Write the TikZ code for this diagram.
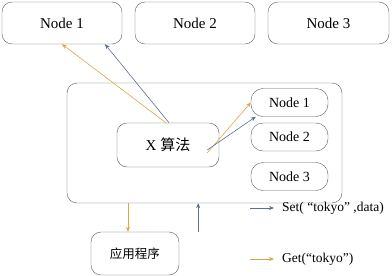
\documentclass[tikz,border=0pt]{standalone}
\usepackage{fontspec}
\setmainfont{Liberation Serif}
\newfontfamily\cjk{Noto Sans CJK SC}
\usepackage{tikz}
\usetikzlibrary{arrows.meta}

\definecolor{linegray}{HTML}{5A5A5A}
\definecolor{setblue}{HTML}{5B6F90}
\definecolor{getorange}{HTML}{D9A844}

\begin{document}
\begin{tikzpicture}[
  x=1pt, y=-1pt,
  box/.style={rectangle, draw=linegray, rounded corners=10pt, align=center, font=\fontsize{15}{18}\selectfont},
  topbox/.style={box, minimum width=120pt, minimum height=42pt},
  cachebox/.style={box, rounded corners=12pt, minimum width=77pt, minimum height=28pt, font=\fontsize{14}{16}\selectfont},
  setarr/.style={-{Stealth[length=5pt,width=4pt]}, setblue, semithick},
  getarr/.style={-{Stealth[length=5pt,width=4pt]}, getorange, semithick},
  legend/.style={anchor=west, inner sep=1pt, font=\fontsize{13.5}{15}\selectfont},
]
  \useasboundingbox (0,0) rectangle (392,276);
  % top row of cache nodes
  \node[topbox] (top1) at (62,23) {Node 1};
  \node[topbox] (top2) at (195,23) {Node 2};
  \node[topbox, minimum width=121pt] (top3) at (328.5,23) {Node 3};
  % client side
  \node[box, minimum width=275pt, minimum height=120pt] (client) at (204.5,143) {};
  \node[box, minimum width=102pt, minimum height=44pt] (algo) at (168,145) {X {\cjk 算法}};
  \node[cachebox] (in1) at (289.5,102.5) {Node 1};
  \node[cachebox] (in2) at (289.5,137) {Node 2};
  \node[cachebox] (in3) at (289.5,176.5) {Node 3};
  \node[box, minimum width=88pt, minimum height=43pt, font=\cjk\fontsize{12.5}{14}\selectfont] (app) at (135,253.5) {应用程序};
  % routing
  \draw[getarr] ([xshift=-2pt]algo.north) -- (top1.south);
  \draw[setarr] ([xshift=1pt]algo.north) -- ([xshift=43pt]top1.south);
  \draw[getarr] ([xshift=-12pt,yshift=-8pt]algo.east) -- (in1.west);
  \draw[setarr] ([xshift=-12pt,yshift=-5pt]algo.east) -- ([xshift=5pt]in1.south west);
  \coordinate (setfrom) at ([xshift=19pt]app.north east);
  \draw[getarr] (client.south -| 128,0) -- (app.north -| 128,0);
  \draw[setarr] (setfrom) -- (client.south -| setfrom);
  % legend
  \coordinate (lg1) at (250,208);
  \coordinate (lg2) at (250,259);
  \node[legend] (setlbl) at (281,208) {Set( “tokyo” ,data)};
  \node[legend] (getlbl) at (281,259) {Get(“tokyo”)};
  \draw[setarr] (lg1) -- ([xshift=-7pt]setlbl.west);
  \draw[getarr] (lg2) -- ([xshift=-7pt]getlbl.west);
\end{tikzpicture}
\end{document}
